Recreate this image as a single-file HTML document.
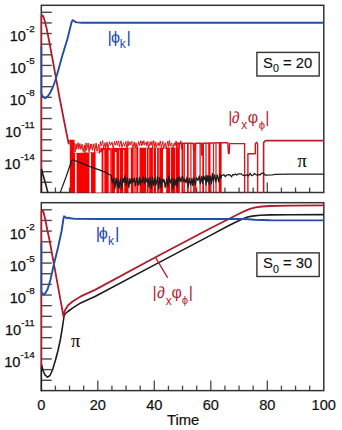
<!DOCTYPE html>
<html><head><meta charset="utf-8"><style>
html,body{margin:0;padding:0;background:#fff;width:342px;height:430px;overflow:hidden;font-family:"Liberation Sans",sans-serif;}
svg{display:block;}
</style></head><body>
<svg width="342" height="430" viewBox="0 0 342 430">
<rect width="342" height="430" fill="#fff"/>
<defs><clipPath id="c1"><rect x="40.50" y="5.30" width="283.30" height="187.80"/></clipPath>
<clipPath id="c2"><rect x="40.50" y="202.70" width="283.30" height="188.50"/></clipPath></defs>
<line x1="41.30" y1="12.30" x2="51.8" y2="12.30" stroke="#484848" stroke-width="1.4"/>
<line x1="41.30" y1="22.93" x2="51.8" y2="22.93" stroke="#484848" stroke-width="1.4"/>
<line x1="41.30" y1="33.55" x2="51.8" y2="33.55" stroke="#484848" stroke-width="1.4"/>
<line x1="41.30" y1="44.17" x2="51.8" y2="44.17" stroke="#484848" stroke-width="1.4"/>
<line x1="41.30" y1="54.80" x2="51.8" y2="54.80" stroke="#484848" stroke-width="1.4"/>
<line x1="41.30" y1="65.42" x2="51.8" y2="65.42" stroke="#484848" stroke-width="1.4"/>
<line x1="41.30" y1="76.05" x2="51.8" y2="76.05" stroke="#484848" stroke-width="1.4"/>
<line x1="41.30" y1="86.67" x2="51.8" y2="86.67" stroke="#484848" stroke-width="1.4"/>
<line x1="41.30" y1="97.30" x2="51.8" y2="97.30" stroke="#484848" stroke-width="1.4"/>
<line x1="41.30" y1="107.92" x2="51.8" y2="107.92" stroke="#484848" stroke-width="1.4"/>
<line x1="41.30" y1="118.55" x2="51.8" y2="118.55" stroke="#484848" stroke-width="1.4"/>
<line x1="41.30" y1="129.18" x2="51.8" y2="129.18" stroke="#484848" stroke-width="1.4"/>
<line x1="41.30" y1="139.80" x2="51.8" y2="139.80" stroke="#484848" stroke-width="1.4"/>
<line x1="41.30" y1="150.43" x2="51.8" y2="150.43" stroke="#484848" stroke-width="1.4"/>
<line x1="41.30" y1="161.05" x2="51.8" y2="161.05" stroke="#484848" stroke-width="1.4"/>
<line x1="41.30" y1="171.68" x2="51.8" y2="171.68" stroke="#484848" stroke-width="1.4"/>
<line x1="41.30" y1="182.30" x2="51.8" y2="182.30" stroke="#484848" stroke-width="1.4"/>
<line x1="55.42" y1="192.50" x2="55.42" y2="187.50" stroke="#484848" stroke-width="1.3"/>
<line x1="69.55" y1="192.50" x2="69.55" y2="187.50" stroke="#484848" stroke-width="1.3"/>
<line x1="83.67" y1="192.50" x2="83.67" y2="187.50" stroke="#484848" stroke-width="1.3"/>
<line x1="97.80" y1="192.50" x2="97.80" y2="182.50" stroke="#484848" stroke-width="1.3"/>
<line x1="111.92" y1="192.50" x2="111.92" y2="187.50" stroke="#484848" stroke-width="1.3"/>
<line x1="126.05" y1="192.50" x2="126.05" y2="187.50" stroke="#484848" stroke-width="1.3"/>
<line x1="140.18" y1="192.50" x2="140.18" y2="187.50" stroke="#484848" stroke-width="1.3"/>
<line x1="154.30" y1="192.50" x2="154.30" y2="182.50" stroke="#484848" stroke-width="1.3"/>
<line x1="168.43" y1="192.50" x2="168.43" y2="187.50" stroke="#484848" stroke-width="1.3"/>
<line x1="182.55" y1="192.50" x2="182.55" y2="187.50" stroke="#484848" stroke-width="1.3"/>
<line x1="196.68" y1="192.50" x2="196.68" y2="187.50" stroke="#484848" stroke-width="1.3"/>
<line x1="210.80" y1="192.50" x2="210.80" y2="182.50" stroke="#484848" stroke-width="1.3"/>
<line x1="224.93" y1="192.50" x2="224.93" y2="187.50" stroke="#484848" stroke-width="1.3"/>
<line x1="239.05" y1="192.50" x2="239.05" y2="187.50" stroke="#484848" stroke-width="1.3"/>
<line x1="253.18" y1="192.50" x2="253.18" y2="187.50" stroke="#484848" stroke-width="1.3"/>
<line x1="267.30" y1="192.50" x2="267.30" y2="182.50" stroke="#484848" stroke-width="1.3"/>
<line x1="281.43" y1="192.50" x2="281.43" y2="187.50" stroke="#484848" stroke-width="1.3"/>
<line x1="295.55" y1="192.50" x2="295.55" y2="187.50" stroke="#484848" stroke-width="1.3"/>
<line x1="309.68" y1="192.50" x2="309.68" y2="187.50" stroke="#484848" stroke-width="1.3"/>
<rect x="41.30" y="5.30" width="282.50" height="187.20" fill="none" stroke="#333333" stroke-width="1.5"/>
<g clip-path="url(#c1)">
<polygon points="69.80,139.80 74.50,139.80 74.50,153.00 100.00,152.00 100.50,148.00 181.60,147.50 181.60,192.50 69.80,192.50" fill="#f80000"/>
<rect x="133.10" y="148" width="3.70" height="44.5" fill="#f46060"/>
<rect x="110.20" y="148" width="1.20" height="44.5" fill="#f46060"/>
<rect x="158.50" y="148" width="1.50" height="44.5" fill="#f46060"/>
<rect x="75.00" y="153.50" width="1.60" height="39.00" fill="#fff"/>
<rect x="89.40" y="153.00" width="1.60" height="39.50" fill="#fff"/>
<rect x="95.60" y="152.30" width="6.00" height="40.20" fill="#fff"/>
<rect x="103.40" y="150.00" width="0.90" height="42.50" fill="#fff"/>
<rect x="108.70" y="150.00" width="1.20" height="42.50" fill="#fff"/>
<rect x="114.90" y="152.00" width="1.50" height="40.50" fill="#fff"/>
<rect x="119.20" y="150.00" width="0.60" height="42.50" fill="#fff"/>
<rect x="123.20" y="150.00" width="1.00" height="42.50" fill="#fff"/>
<rect x="128.50" y="148.40" width="2.30" height="44.10" fill="#fff"/>
<rect x="138.30" y="148.00" width="1.20" height="44.50" fill="#fff"/>
<rect x="146.10" y="148.00" width="0.80" height="44.50" fill="#fff"/>
<rect x="148.60" y="148.00" width="0.60" height="44.50" fill="#fff"/>
<rect x="152.90" y="148.00" width="0.70" height="44.50" fill="#fff"/>
<rect x="156.00" y="148.00" width="1.10" height="44.50" fill="#fff"/>
<rect x="163.00" y="148.40" width="3.20" height="44.10" fill="#fff"/>
<rect x="170.20" y="148.00" width="0.80" height="44.50" fill="#fff"/>
<rect x="175.40" y="148.00" width="1.20" height="44.50" fill="#fff"/>
<rect x="179.40" y="147.00" width="2.20" height="45.50" fill="#fff"/>
<polyline points="68.60,143.60 70.20,139.80 70.60,150.00 74.60,143.31 75.12,151.93 76.09,143.84 76.78,149.26 78.14,142.59 78.88,149.31 79.86,143.56 80.93,149.56 82.03,144.07 83.18,151.60 84.44,144.94 84.88,152.86 86.04,142.86 86.53,150.39 88.17,142.95 89.03,151.88 90.27,143.87 90.72,149.27 91.80,144.20 92.55,150.41 93.97,143.63 94.61,152.57 96.14,143.11 97.00,151.36 98.69,144.32 99.32,153.41 100.33,141.55 101.33,145.68 102.67,140.60 103.61,148.44 105.02,142.69 105.67,148.13 107.11,141.95 107.87,148.78 109.62,141.69 110.55,145.27 112.09,142.12 113.28,148.70 114.44,141.46 115.37,145.10 116.69,140.92 117.18,145.27 118.77,140.82 119.37,146.76 121.05,140.70 121.81,147.47 123.51,142.55 124.60,146.25 125.87,141.40 126.98,149.31 128.02,140.94 128.60,146.05 129.94,141.97 130.55,145.02 131.83,141.42 132.68,149.29 134.20,141.79 135.09,148.04 136.04,142.75 137.07,148.94 138.69,141.48 139.40,145.47 140.88,140.66 141.33,145.94 142.38,141.35 142.82,145.00 143.85,140.75 144.54,145.11 146.23,142.04 146.75,146.14 147.96,141.41 148.46,148.82 150.25,141.66 151.04,145.39 152.03,141.36 152.65,148.73 153.69,140.56 154.85,147.38 155.88,141.86 156.31,147.38 158.09,142.66 159.04,146.18 160.27,140.92 161.29,147.40 162.89,141.32 163.47,148.65 165.26,142.63 166.30,148.68 167.87,141.07 168.68,146.60 169.61,140.57 170.23,146.17 171.75,142.89 172.51,149.22 174.30,142.89 174.99,145.99 176.10,140.99 176.66,147.81 178.37,142.60 179.15,147.94 180.77,140.71 181.70,149.09 181.50,143.20" fill="none" stroke="#d81818" stroke-width="1.0" stroke-linejoin="round" stroke-linecap="round" />
<rect x="176.00" y="143" width="1.40" height="49.50" fill="#f80000"/>
<rect x="181.70" y="143" width="1.80" height="49.50" fill="#f80000"/>
<rect x="187.00" y="143" width="1.70" height="49.50" fill="#f80000"/>
<rect x="193.10" y="143" width="1.80" height="49.50" fill="#f80000"/>
<rect x="202.30" y="143" width="1.70" height="49.50" fill="#f80000"/>
<rect x="208.20" y="143" width="2.30" height="49.50" fill="#f80000"/>
<rect x="218.80" y="143" width="2.80" height="49.50" fill="#f80000"/>
<line x1="179.10" y1="143.3" x2="179.10" y2="192.50" stroke="#d0161f" stroke-width="1.2"/>
<line x1="184.30" y1="143.3" x2="184.30" y2="192.50" stroke="#d0161f" stroke-width="1.2"/>
<line x1="190.90" y1="143.3" x2="190.90" y2="192.50" stroke="#d0161f" stroke-width="1.2"/>
<line x1="195.70" y1="143.3" x2="195.70" y2="192.50" stroke="#d0161f" stroke-width="1.2"/>
<line x1="200.10" y1="143.3" x2="200.10" y2="192.50" stroke="#d0161f" stroke-width="1.2"/>
<line x1="206.00" y1="143.3" x2="206.00" y2="192.50" stroke="#d0161f" stroke-width="1.2"/>
<line x1="213.50" y1="143.3" x2="213.50" y2="192.50" stroke="#d0161f" stroke-width="1.2"/>
<line x1="216.00" y1="143.3" x2="216.00" y2="192.50" stroke="#d0161f" stroke-width="1.2"/>
<polyline points="176.00,143.30 193.20,143.30 193.60,150.40 195.20,150.40 195.60,143.30 201.30,143.30 201.60,155.00 202.60,155.00 202.90,143.30 221.50,142.80 227.80,142.80 228.40,153.50 229.20,153.50 229.60,143.60 244.60,143.60 244.60,194.50" fill="none" stroke="#d0161f" stroke-width="1.4" stroke-linejoin="round" stroke-linecap="round" />
<polyline points="247.90,194.50 247.90,153.70 255.30,153.70 255.30,143.90 256.60,142.30 257.60,143.90 257.60,194.50" fill="none" stroke="#d0161f" stroke-width="1.4" stroke-linejoin="round" stroke-linecap="round" />
<polyline points="263.60,194.50 263.60,143.00 264.60,141.20 266.40,140.60 325.80,140.60" fill="none" stroke="#b81c2c" stroke-width="1.6" stroke-linejoin="round" stroke-linecap="round" />
<polyline points="41.30,194.50 41.30,16.50 42.00,15.30 42.80,15.60 43.70,17.60 44.60,20.50 46.40,27.40 48.80,39.30 52.70,60.00 56.30,79.90 60.00,100.00 64.30,122.00 68.60,143.60" fill="none" stroke="#b11c2c" stroke-width="1.8" stroke-linejoin="round" stroke-linecap="round" />
<polyline points="41.30,194.50 41.30,169.80 41.60,169.30 43.00,174.80 45.50,183.50 47.90,192.60" fill="none" stroke="#1c1c1c" stroke-width="1.6" stroke-linejoin="round" stroke-linecap="round" />
<polyline points="60.20,192.60 66.00,177.00 71.50,161.00 73.10,159.80 80.00,162.60 90.00,166.60 100.00,170.20 106.00,172.60 111.20,175.50 111.20,176.50 112.28,182.84 113.61,178.17 114.95,188.79 115.97,177.89 117.43,186.94 118.26,178.99 119.09,188.29 120.43,178.92 121.79,188.85 123.02,178.10 124.16,182.48 124.87,175.62 126.09,185.45 127.53,177.76 128.93,187.70 129.80,178.49 130.74,183.30 131.90,178.46 132.94,182.48 134.37,178.08 135.43,185.88 136.86,177.82 138.29,185.26 139.42,177.41 140.13,184.80 140.98,179.48 142.32,182.79 143.40,176.60 144.54,183.94 145.66,177.28 146.98,182.30 148.13,178.51 149.05,187.29 150.16,177.25 151.47,188.34 152.52,177.05 153.63,185.34 154.88,177.69 156.01,185.09 157.46,176.70 158.86,188.57 159.77,177.26 161.22,187.80 162.03,179.01 163.09,182.04 163.98,179.21 165.22,187.38 166.63,178.88 167.91,186.45 168.72,175.97 170.19,183.15 171.66,177.91 172.75,188.92 174.11,178.85 175.16,185.37 176.13,178.72 177.08,186.92 177.80,177.28 178.85,181.64 179.82,177.00 180.93,181.90 182.42,176.13 183.89,181.94 184.80,178.91 186.13,182.98 186.93,177.19 188.36,186.89 189.27,178.07 190.70,184.82 191.96,178.07 192.71,185.52 193.75,177.97 195.20,184.89 196.54,177.68 197.93,180.39 199.32,175.95 200.29,183.82 201.73,176.47 202.53,183.42 203.42,176.95 204.25,179.70 205.11,175.99 206.06,184.85 206.99,175.07 207.83,181.60 208.55,175.93 209.26,184.36 210.40,176.01 211.48,183.81 212.27,173.32 213.31,181.22 214.68,174.81 215.78,182.06 217.27,174.77 218.64,181.91 219.84,174.30 220.82,178.13 221.63,175.47 222.92,175.08 223.85,174.56 225.32,176.70 226.66,175.00 227.65,174.99 228.82,174.57 229.98,174.82 231.55,176.74 232.78,174.65 234.36,174.77 235.44,173.87 236.55,175.15 237.75,174.33 238.95,173.74 239.96,173.93 241.08,173.75 241.90,174.46 242.89,175.20 244.11,175.62 245.44,175.47 246.94,174.49 248.00,176.12 248.92,175.35 250.24,173.39 251.70,175.71 253.01,175.21 254.46,173.49 255.68,174.47 257.14,175.25 258.60,174.57 260.12,174.79 261.47,173.46 262.30,173.16 263.39,173.04 264.00,174.00 265.50,175.20 272.00,175.00 275.00,174.30 290.00,174.20 325.80,174.20" fill="none" stroke="#1c1c1c" stroke-width="1.25" stroke-linejoin="round" stroke-linecap="round" />
<polyline points="41.30,46.50 41.30,93.50 43.00,96.90 45.30,98.20 47.50,96.60 50.00,93.00 52.50,88.00 55.00,81.50 58.20,70.50 62.50,55.00 67.40,39.00 71.50,22.50 72.60,20.20 73.80,20.60 75.40,22.00 77.00,22.40 82.00,22.70 100.00,22.80 325.80,22.80" fill="none" stroke="#234ea6" stroke-width="1.9" stroke-linejoin="round" stroke-linecap="round" />
</g>
<text x="34.6" y="41.45" text-anchor="end" font-family="Liberation Sans" font-size="14.6" fill="#111" stroke="#111" stroke-width="0.25">10<tspan font-size="9.8" dy="-9.2">-2</tspan></text>
<text x="34.6" y="73.33" text-anchor="end" font-family="Liberation Sans" font-size="14.6" fill="#111" stroke="#111" stroke-width="0.25">10<tspan font-size="9.8" dy="-9.2">-5</tspan></text>
<text x="34.6" y="105.20" text-anchor="end" font-family="Liberation Sans" font-size="14.6" fill="#111" stroke="#111" stroke-width="0.25">10<tspan font-size="9.8" dy="-9.2">-8</tspan></text>
<text x="34.6" y="137.08" text-anchor="end" font-family="Liberation Sans" font-size="14.6" fill="#111" stroke="#111" stroke-width="0.25">10<tspan font-size="9.8" dy="-9.2">-11</tspan></text>
<text x="34.6" y="168.95" text-anchor="end" font-family="Liberation Sans" font-size="14.6" fill="#111" stroke="#111" stroke-width="0.25">10<tspan font-size="9.8" dy="-9.2">-14</tspan></text>
<text x="107.40" y="42.60" font-family="Liberation Sans" font-size="17" fill="#2646b0">|</text>
<text x="110.90" y="42.60" font-family="Liberation Sans" font-size="16.2" fill="#2646b0">&#x3D5;</text>
<text x="119.80" y="48.40" font-family="Liberation Sans" font-size="12" fill="#2646b0">k</text>
<text x="126.40" y="42.60" font-family="Liberation Sans" font-size="17" fill="#2646b0">|</text>
<rect x="256.9" y="52.40" width="62.3" height="23.6" fill="#fff" stroke="#333" stroke-width="1.4"/>
<text x="263.0" y="67.85" font-family="Liberation Sans" font-size="14.8" fill="#111" stroke="#111" stroke-width="0.15">S<tspan font-size="10.7" dy="4.2">0</tspan><tspan dy="-4.2"> = 20</tspan></text>
<text x="228.37" y="122.50" font-family="Liberation Sans" font-size="16" fill="#b82636">|</text>
<text x="231.86" y="122.50" font-family="Liberation Sans" font-size="16" fill="#b82636">&#x2202;</text>
<text x="241.17" y="129.30" font-family="Liberation Sans" font-size="12" fill="#b82636">x</text>
<text x="247.64" y="122.50" font-family="Liberation Sans" font-size="16" fill="#b82636">&#x3C6;</text>
<text x="258.86" y="129.00" font-family="Liberation Sans" font-size="11.3" fill="#b82636">&#x3D5;</text>
<text x="265.27" y="122.50" font-family="Liberation Sans" font-size="16" fill="#b82636">|</text>
<text x="297.50" y="166.90" font-family="Liberation Serif" font-size="18.5" fill="#111" stroke="#111" stroke-width="0.15">&#x3C0;</text>
<line x1="41.30" y1="209.80" x2="51.8" y2="209.80" stroke="#484848" stroke-width="1.4"/>
<line x1="41.30" y1="220.46" x2="51.8" y2="220.46" stroke="#484848" stroke-width="1.4"/>
<line x1="41.30" y1="231.11" x2="51.8" y2="231.11" stroke="#484848" stroke-width="1.4"/>
<line x1="41.30" y1="241.77" x2="51.8" y2="241.77" stroke="#484848" stroke-width="1.4"/>
<line x1="41.30" y1="252.42" x2="51.8" y2="252.42" stroke="#484848" stroke-width="1.4"/>
<line x1="41.30" y1="263.07" x2="51.8" y2="263.07" stroke="#484848" stroke-width="1.4"/>
<line x1="41.30" y1="273.73" x2="51.8" y2="273.73" stroke="#484848" stroke-width="1.4"/>
<line x1="41.30" y1="284.38" x2="51.8" y2="284.38" stroke="#484848" stroke-width="1.4"/>
<line x1="41.30" y1="295.04" x2="51.8" y2="295.04" stroke="#484848" stroke-width="1.4"/>
<line x1="41.30" y1="305.69" x2="51.8" y2="305.69" stroke="#484848" stroke-width="1.4"/>
<line x1="41.30" y1="316.35" x2="51.8" y2="316.35" stroke="#484848" stroke-width="1.4"/>
<line x1="41.30" y1="327.00" x2="51.8" y2="327.00" stroke="#484848" stroke-width="1.4"/>
<line x1="41.30" y1="337.66" x2="51.8" y2="337.66" stroke="#484848" stroke-width="1.4"/>
<line x1="41.30" y1="348.31" x2="51.8" y2="348.31" stroke="#484848" stroke-width="1.4"/>
<line x1="41.30" y1="358.97" x2="51.8" y2="358.97" stroke="#484848" stroke-width="1.4"/>
<line x1="41.30" y1="369.62" x2="51.8" y2="369.62" stroke="#484848" stroke-width="1.4"/>
<line x1="41.30" y1="380.28" x2="51.8" y2="380.28" stroke="#484848" stroke-width="1.4"/>
<line x1="55.42" y1="390.60" x2="55.42" y2="385.60" stroke="#484848" stroke-width="1.3"/>
<line x1="69.55" y1="390.60" x2="69.55" y2="385.60" stroke="#484848" stroke-width="1.3"/>
<line x1="83.67" y1="390.60" x2="83.67" y2="385.60" stroke="#484848" stroke-width="1.3"/>
<line x1="97.80" y1="390.60" x2="97.80" y2="380.60" stroke="#484848" stroke-width="1.3"/>
<line x1="111.92" y1="390.60" x2="111.92" y2="385.60" stroke="#484848" stroke-width="1.3"/>
<line x1="126.05" y1="390.60" x2="126.05" y2="385.60" stroke="#484848" stroke-width="1.3"/>
<line x1="140.18" y1="390.60" x2="140.18" y2="385.60" stroke="#484848" stroke-width="1.3"/>
<line x1="154.30" y1="390.60" x2="154.30" y2="380.60" stroke="#484848" stroke-width="1.3"/>
<line x1="168.43" y1="390.60" x2="168.43" y2="385.60" stroke="#484848" stroke-width="1.3"/>
<line x1="182.55" y1="390.60" x2="182.55" y2="385.60" stroke="#484848" stroke-width="1.3"/>
<line x1="196.68" y1="390.60" x2="196.68" y2="385.60" stroke="#484848" stroke-width="1.3"/>
<line x1="210.80" y1="390.60" x2="210.80" y2="380.60" stroke="#484848" stroke-width="1.3"/>
<line x1="224.93" y1="390.60" x2="224.93" y2="385.60" stroke="#484848" stroke-width="1.3"/>
<line x1="239.05" y1="390.60" x2="239.05" y2="385.60" stroke="#484848" stroke-width="1.3"/>
<line x1="253.18" y1="390.60" x2="253.18" y2="385.60" stroke="#484848" stroke-width="1.3"/>
<line x1="267.30" y1="390.60" x2="267.30" y2="380.60" stroke="#484848" stroke-width="1.3"/>
<line x1="281.43" y1="390.60" x2="281.43" y2="385.60" stroke="#484848" stroke-width="1.3"/>
<line x1="295.55" y1="390.60" x2="295.55" y2="385.60" stroke="#484848" stroke-width="1.3"/>
<line x1="309.68" y1="390.60" x2="309.68" y2="385.60" stroke="#484848" stroke-width="1.3"/>
<rect x="41.30" y="202.70" width="282.50" height="187.90" fill="none" stroke="#333333" stroke-width="1.5"/>
<g clip-path="url(#c2)">
<polyline points="41.30,392.60 41.30,365.20 41.60,364.80 43.00,370.50 45.00,375.00 47.50,377.10 50.00,375.50 52.50,370.00 55.50,360.00 58.00,350.50 60.30,340.00 62.00,330.00 63.20,322.00 64.00,316.50 65.00,314.00 67.90,311.50 72.50,308.10 80.70,302.90 95.00,296.50 155.00,264.60 210.00,235.60 228.00,226.00 236.00,222.00 242.50,219.00 247.50,217.00 252.10,216.10 260.00,215.30 270.00,214.90 290.00,214.70 325.80,214.60" fill="none" stroke="#1c1c1c" stroke-width="1.6" stroke-linejoin="round" stroke-linecap="round" />
<polyline points="41.30,366.00 41.30,211.50 41.90,210.30 42.60,210.40 43.60,212.50 45.30,219.50 47.30,230.00 49.60,240.50 53.80,263.50 57.50,283.70 61.00,302.80 63.40,316.00 64.90,310.50 67.90,305.50 72.50,301.50 80.70,296.40 95.00,289.90 155.00,257.50 210.00,228.50 229.30,218.80 238.00,214.30 245.10,210.90 250.00,208.90 255.60,207.40 262.00,206.50 270.00,206.00 290.00,205.60 325.80,205.30" fill="none" stroke="#b11c2c" stroke-width="1.8" stroke-linejoin="round" stroke-linecap="round" />
<polyline points="41.30,243.50 41.30,291.50 42.50,293.80 43.90,294.40 45.50,293.00 47.80,288.70 50.50,279.50 53.50,266.00 57.90,248.00 61.60,231.00 63.40,219.00 64.10,216.30 65.20,216.80 66.70,218.40 67.70,218.00 68.60,217.60 70.00,218.30 75.00,218.90 100.00,219.00 245.00,219.00 255.00,219.70 270.00,220.20 325.80,220.40" fill="none" stroke="#234ea6" stroke-width="1.9" stroke-linejoin="round" stroke-linecap="round" />
</g>
<text x="34.6" y="239.01" text-anchor="end" font-family="Liberation Sans" font-size="14.6" fill="#111" stroke="#111" stroke-width="0.25">10<tspan font-size="9.8" dy="-9.2">-2</tspan></text>
<text x="34.6" y="270.97" text-anchor="end" font-family="Liberation Sans" font-size="14.6" fill="#111" stroke="#111" stroke-width="0.25">10<tspan font-size="9.8" dy="-9.2">-5</tspan></text>
<text x="34.6" y="302.94" text-anchor="end" font-family="Liberation Sans" font-size="14.6" fill="#111" stroke="#111" stroke-width="0.25">10<tspan font-size="9.8" dy="-9.2">-8</tspan></text>
<text x="34.6" y="334.90" text-anchor="end" font-family="Liberation Sans" font-size="14.6" fill="#111" stroke="#111" stroke-width="0.25">10<tspan font-size="9.8" dy="-9.2">-11</tspan></text>
<text x="34.6" y="366.87" text-anchor="end" font-family="Liberation Sans" font-size="14.6" fill="#111" stroke="#111" stroke-width="0.25">10<tspan font-size="9.8" dy="-9.2">-14</tspan></text>
<text x="95.70" y="239.10" font-family="Liberation Sans" font-size="17" fill="#2646b0">|</text>
<text x="98.80" y="239.10" font-family="Liberation Sans" font-size="16.2" fill="#2646b0">&#x3D5;</text>
<text x="108.10" y="244.90" font-family="Liberation Sans" font-size="12" fill="#2646b0">k</text>
<text x="115.10" y="239.10" font-family="Liberation Sans" font-size="17" fill="#2646b0">|</text>
<rect x="256.9" y="252.90" width="62.3" height="23.6" fill="#fff" stroke="#333" stroke-width="1.4"/>
<text x="263.0" y="268.35" font-family="Liberation Sans" font-size="14.8" fill="#111" stroke="#111" stroke-width="0.15">S<tspan font-size="10.7" dy="4.2">0</tspan><tspan dy="-4.2"> = 30</tspan></text>
<line x1="155.3" y1="257.2" x2="167.6" y2="277.6" stroke="#b11c2c" stroke-width="1.3"/>
<text x="152.57" y="297.80" font-family="Liberation Sans" font-size="16" fill="#b82636">|</text>
<text x="156.96" y="297.80" font-family="Liberation Sans" font-size="16" fill="#b82636">&#x2202;</text>
<text x="165.77" y="304.60" font-family="Liberation Sans" font-size="12" fill="#b82636">x</text>
<text x="171.54" y="297.80" font-family="Liberation Sans" font-size="16" fill="#b82636">&#x3C6;</text>
<text x="181.86" y="304.30" font-family="Liberation Sans" font-size="11.3" fill="#b82636">&#x3D5;</text>
<text x="188.87" y="297.80" font-family="Liberation Sans" font-size="16" fill="#b82636">|</text>
<text x="70.90" y="347.20" font-family="Liberation Serif" font-size="18.5" fill="#111" stroke="#111" stroke-width="0.15">&#x3C0;</text>
<text x="41.30" y="409.8" text-anchor="middle" font-family="Liberation Sans" font-size="14.6" fill="#111" stroke="#111" stroke-width="0.2">0</text>
<text x="97.80" y="409.8" text-anchor="middle" font-family="Liberation Sans" font-size="14.6" fill="#111" stroke="#111" stroke-width="0.2">20</text>
<text x="154.30" y="409.8" text-anchor="middle" font-family="Liberation Sans" font-size="14.6" fill="#111" stroke="#111" stroke-width="0.2">40</text>
<text x="210.80" y="409.8" text-anchor="middle" font-family="Liberation Sans" font-size="14.6" fill="#111" stroke="#111" stroke-width="0.2">60</text>
<text x="267.30" y="409.8" text-anchor="middle" font-family="Liberation Sans" font-size="14.6" fill="#111" stroke="#111" stroke-width="0.2">80</text>
<text x="323.80" y="409.8" text-anchor="middle" font-family="Liberation Sans" font-size="14.6" fill="#111" stroke="#111" stroke-width="0.2">100</text>
<text x="183.2" y="424.7" text-anchor="middle" font-family="Liberation Sans" font-size="14.8" fill="#111" stroke="#111" stroke-width="0.2">Time</text>
</svg>
</body></html>
